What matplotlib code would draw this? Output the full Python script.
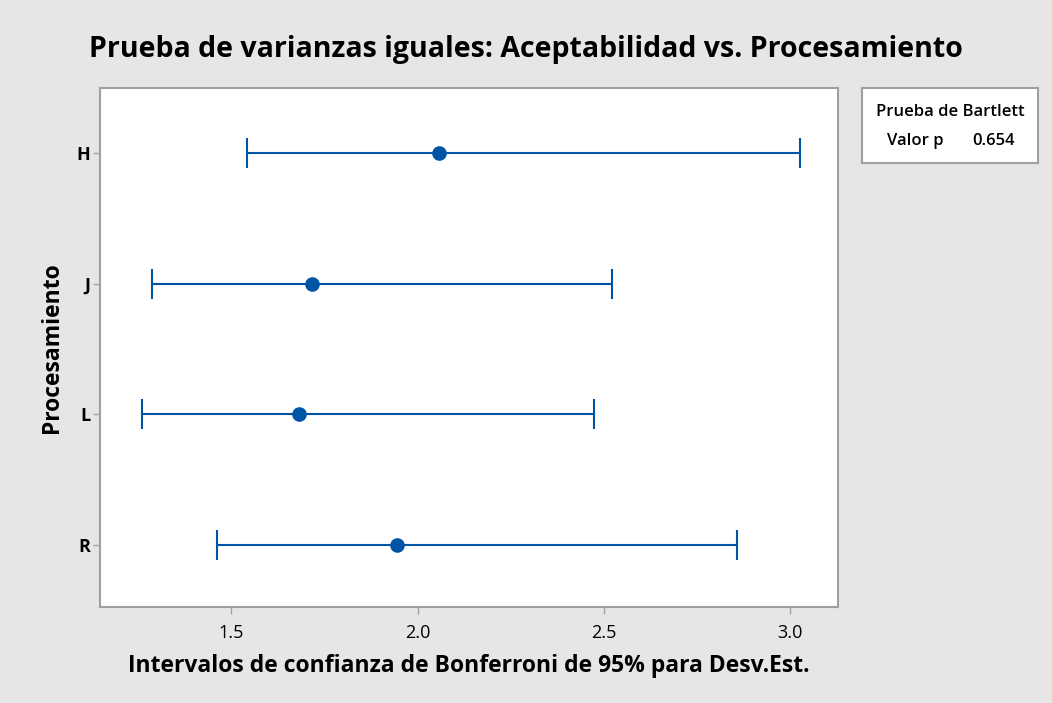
import matplotlib.pyplot as plt
import numpy as np

# datos
grupos = ["H", "J", "L", "R"]
desv_est = [2.057, 1.716, 1.681, 1.944]
ic_inf = [1.542, 1.287, 1.260, 1.461]
ic_sup = [3.026, 2.521, 2.473, 2.857]
p_bartlett = 0.654

azul = "#0054a6"
gris = "#e6e6e6"

plt.rcParams['font.family'] = ['Open Sans', 'DejaVu Sans']

fig = plt.figure(figsize=(10.52, 7.03), dpi=100, facecolor=gris)
ax = fig.add_axes([0.095, 0.1366, 0.702, 0.7382])
ax.set_facecolor("white")

y = np.arange(len(grupos))[::-1]
centro = np.array(desv_est)
err = [centro - np.array(ic_inf), np.array(ic_sup) - centro]
ax.errorbar(centro, y, xerr=err, fmt="o", color=azul, ms=9.5, lw=1.5,
            capsize=10.8, capthick=1.5, elinewidth=1.5)

ax.set_xlim(1.147, 3.129)
ax.set_ylim(-0.475, 3.5)
ax.set_xticks([1.5, 2.0, 2.5, 3.0])
ax.set_xticklabels(["1.5", "2.0", "2.5", "3.0"])
ax.set_yticks(y)
ax.set_yticklabels(grupos, fontweight="bold")
ax.tick_params(axis="both", colors="#a0a0a0", labelcolor="black", labelsize=13,
               length=5, width=1)
ax.tick_params(axis="x", pad=7)
ax.tick_params(axis="y", pad=2)
for s in ax.spines.values():
    s.set_color("#a0a0a0")
    s.set_linewidth(1.5)

ax.set_xlabel("Intervalos de confianza de Bonferroni de 95% para Desv.Est.",
              fontsize=16.5, fontweight="bold", labelpad=9)
ax.set_ylabel("Procesamiento", fontsize=16.5, fontweight="bold", labelpad=9)
fig.suptitle("Prueba de varianzas iguales: Aceptabilidad vs. Procesamiento",
             x=0.5, y=0.95, fontsize=20.5, fontweight="bold")

# cuadro de Bartlett
caja = fig.add_axes([862 / 1052, 1 - 163 / 703, 176 / 1052, 75 / 703])
caja.set_xticks([])
caja.set_yticks([])
for s in caja.spines.values():
    s.set_color("#a0a0a0")
    s.set_linewidth(1.5)
caja.text(0.5, 0.68, "Prueba de Bartlett", ha="center", va="center",
          fontsize=12, fontweight="semibold", transform=caja.transAxes)
caja.text(0.14, 0.29, "Valor p", ha="left", va="center",
          fontsize=12, fontweight="semibold", transform=caja.transAxes)
caja.text(0.87, 0.29, f"{p_bartlett:.3f}", ha="right", va="center",
          fontsize=12, fontweight="semibold", transform=caja.transAxes)

fig.savefig("out.png", dpi=100, facecolor=gris)
